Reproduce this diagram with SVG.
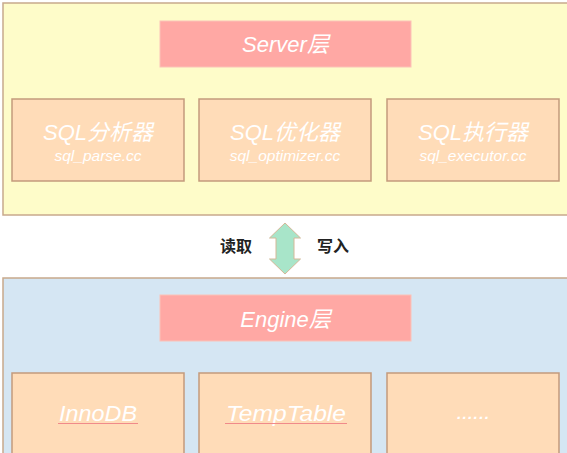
<svg xmlns="http://www.w3.org/2000/svg" width="567" height="453" viewBox="0 0 567 453">
<style>
.panel{stroke:#c8a98c;stroke-width:1.5}
.title{fill:#ffa8a4;stroke:#fbc2b8;stroke-width:1}
.node{fill:#ffdcb8;stroke:#c39a7c;stroke-width:1.5}
.t{font-family:"Liberation Sans","Noto Sans CJK SC",sans-serif;font-style:italic;fill:#ffffff;text-anchor:middle}
.big{font-size:22px}
.small{font-size:15.5px}
.lab{font-family:"Liberation Sans","Noto Sans CJK SC",sans-serif;font-size:16px;font-weight:bold;fill:#222;text-anchor:middle}
.ul{stroke:#f08a8a;stroke-width:1}
</style>
<rect width="567" height="453" fill="#ffffff"/>
<g id="server-layer">
<rect class="panel" x="3" y="3" width="580" height="212" fill="#fefcc9"/>
<g id="server-title">
<rect class="title" x="160" y="21" width="251" height="46"/>
<text class="t big" x="285.5" y="52">Server层</text>
</g>
<g id="sql-parser">
<rect class="node" x="12" y="99" width="172" height="82"/>
<text class="t big" x="98" y="140">SQL分析器</text>
<text class="t small" x="98" y="161">sql_parse.cc</text>
</g>
<g id="sql-optimizer">
<rect class="node" x="199" y="99" width="172" height="82"/>
<text class="t big" x="285" y="140">SQL优化器</text>
<text class="t small" x="285" y="161">sql_optimizer.cc</text>
</g>
<g id="sql-executor">
<rect class="node" x="387" y="99" width="172" height="82"/>
<text class="t big" x="473" y="140">SQL执行器</text>
<text class="t small" x="473" y="161">sql_executor.cc</text>
</g>
</g>
<g id="connectors">
<path d="M285,223 L300.5,238 L294,238 L294,259 L300.5,259 L285,274 L269.5,259 L276,259 L276,238 L269.5,238 Z" fill="#a8e5c9" stroke="#d4b898" stroke-width="1"/>
<text class="lab" x="236" y="252">读取</text>
<text class="lab" x="333" y="252">写入</text>
</g>
<g id="engine-layer">
<rect class="panel" x="3" y="278" width="580" height="190" fill="#d5e6f3"/>
<g id="engine-title">
<rect class="title" x="160" y="295" width="251" height="46"/>
<text class="t big" x="285.5" y="327">Engine层</text>
</g>
<g id="innodb">
<rect class="node" x="12" y="373" width="172" height="95"/>
<text class="t big" x="98" y="421" textLength="78" lengthAdjust="spacingAndGlyphs">InnoDB</text>
<line class="ul" x1="58" y1="423.5" x2="138" y2="423.5"/>
</g>
<g id="temptable">
<rect class="node" x="199" y="373" width="172" height="95"/>
<text class="t big" x="286" y="421" textLength="120" lengthAdjust="spacingAndGlyphs">TempTable</text>
<line class="ul" x1="225" y1="423.5" x2="347" y2="423.5"/>
</g>
<g id="more">
<rect class="node" x="387" y="373" width="172" height="95"/>
<text class="t small" x="473" y="419" font-weight="bold" textLength="32" lengthAdjust="spacing">......</text>
</g>
</g>
</svg>
